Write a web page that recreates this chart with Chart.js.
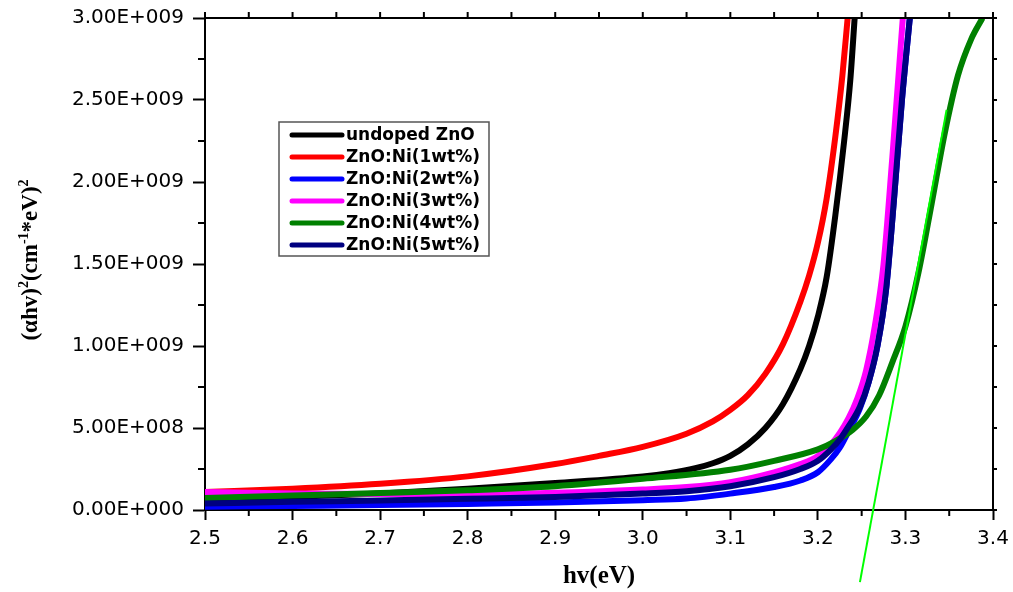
<!DOCTYPE html>
<html>
<head>
<meta charset="utf-8">
<script src="https://cdn.jsdelivr.net/npm/chart.js@4.4.1/dist/chart.umd.min.js"></script>
<style>
  html, body { margin: 0; padding: 0; background: #fff; }
  canvas { display: block; }
</style>
</head>
<body>
<canvas id="chart" width="1013" height="592"></canvas>
<script>
// Tauc plot data, values of (alpha*hv)^2 in units of 1E+009
const seriesNames = ["undoped ZnO", "ZnO:Ni(1wt%)", "ZnO:Ni(2wt%)", "ZnO:Ni(3wt%)", "ZnO:Ni(4wt%)", "ZnO:Ni(5wt%)"];
const seriesColors = ["#000000", "#ff0000", "#0000ff", "#ff00ff", "#008000", "#000080"];

const hvUndoped = [2.5, 2.6, 2.7, 2.8, 2.9, 3.0, 3.03, 3.06, 3.08, 3.1, 3.12, 3.14, 3.16, 3.18, 3.19, 3.2, 3.21, 3.22, 3.23, 3.237, 3.242];
const undoped   = [0.06, 0.08, 0.10, 0.13, 0.165, 0.205, 0.225, 0.255, 0.285, 0.33, 0.40, 0.50, 0.645, 0.86, 1.0, 1.18, 1.42, 1.8, 2.25, 2.62, 3.0];

const hvNi1 = [2.5, 2.6, 2.7, 2.8, 2.9, 2.95, 3.0, 3.05, 3.08, 3.1, 3.12, 3.14, 3.16, 3.18, 3.19, 3.2, 3.21, 3.22, 3.228, 3.234];
const ni1   = [0.11, 0.13, 0.16, 0.205, 0.28, 0.33, 0.385, 0.465, 0.54, 0.61, 0.70, 0.83, 1.01, 1.27, 1.43, 1.63, 1.9, 2.28, 2.65, 3.0];

const hvNi2 = [2.5, 2.6, 2.7, 2.8, 2.9, 3.0, 3.05, 3.1, 3.15, 3.18, 3.2, 3.215, 3.225, 3.235, 3.248, 3.258, 3.268, 3.278, 3.287, 3.296, 3.305];
const ni2   = [0.02, 0.025, 0.03, 0.037, 0.045, 0.06, 0.07, 0.10, 0.14, 0.18, 0.23, 0.31, 0.38, 0.48, 0.62, 0.78, 1.0, 1.35, 1.9, 2.5, 3.0];

const hvNi3 = [2.5, 2.6, 2.7, 2.8, 2.9, 3.0, 3.05, 3.1, 3.15, 3.18, 3.2, 3.215, 3.225, 3.235, 3.245, 3.255, 3.265, 3.275, 3.285, 3.297];
const ni3   = [0.11, 0.10, 0.097, 0.098, 0.105, 0.125, 0.14, 0.17, 0.23, 0.28, 0.33, 0.40, 0.47, 0.56, 0.68, 0.85, 1.12, 1.5, 2.15, 3.0];

const hvNi4 = [2.5, 2.6, 2.7, 2.8, 2.9, 3.0, 3.1, 3.15, 3.2, 3.22, 3.24, 3.255, 3.27, 3.285, 3.3, 3.315, 3.33, 3.345, 3.36, 3.375, 3.388];
const ni4   = [0.073, 0.088, 0.103, 0.12, 0.145, 0.19, 0.245, 0.30, 0.37, 0.42, 0.49, 0.57, 0.70, 0.90, 1.12, 1.45, 1.87, 2.3, 2.65, 2.87, 3.0];

const hvNi5 = [2.5, 2.6, 2.7, 2.8, 2.9, 3.0, 3.05, 3.1, 3.15, 3.18, 3.2, 3.215, 3.225, 3.235, 3.248, 3.258, 3.268, 3.278, 3.287, 3.296, 3.305];
const ni5   = [0.04, 0.05, 0.058, 0.068, 0.08, 0.10, 0.115, 0.145, 0.20, 0.25, 0.30, 0.37, 0.43, 0.51, 0.63, 0.78, 1.0, 1.35, 1.9, 2.5, 3.0];

// linear fit to the 4wt% edge
const hvFit = [3.248, 3.347];
const fitLine = [-0.44, 2.44];

const xMin = 2.5, xMax = 3.4, xStep = 0.05, xMajor = 0.1;
const yMin = 0, yMax = 3, yStep = 0.25, yMajor = 0.5;

const isMajor = (v, step) => Math.abs(v / step - Math.round(v / step)) < 1e-6;

function sci(v) {
  if (Math.abs(v) < 1e-12) return "0.00E+000";
  const e = Math.floor(Math.log10(v) + 1e-9);
  const m = v / Math.pow(10, e);
  return m.toFixed(2) + "E+" + String(e).padStart(3, "0");
}

const series = [[hvUndoped, undoped], [hvNi1, ni1], [hvNi2, ni2], [hvNi3, ni3], [hvNi4, ni4], [hvNi5, ni5]];
const datasets = series.map(([hv, vals], i) => ({
  label: seriesNames[i],
  data: hv.map((h, j) => ({ x: h, y: vals[j] })),
  borderColor: seriesColors[i],
  borderWidth: 6,
  pointRadius: 0,
  fill: false,
  cubicInterpolationMode: "monotone",
  order: -i
}));
datasets.push({
  label: "fit",
  data: hvFit.map((h, j) => ({ x: h, y: fitLine[j] })),
  borderColor: "#00ff00",
  borderWidth: 2,
  pointRadius: 0,
  fill: false,
  clip: false,
  order: -10
});

const extras = {
  id: "extras",
  afterDraw(chart) {
    const { ctx, chartArea: a, scales: { x, y } } = chart;
    ctx.save();
    ctx.strokeStyle = "#000";
    ctx.lineWidth = 2;
    const seg = (x1, y1, x2, y2) => { ctx.beginPath(); ctx.moveTo(x1, y1); ctx.lineTo(x2, y2); ctx.stroke(); };

    // top and right frame
    ctx.beginPath();
    ctx.moveTo(a.left - 1, a.top);
    ctx.lineTo(a.right, a.top);
    ctx.lineTo(a.right, a.bottom + 1);
    ctx.stroke();

    x.ticks.forEach(t => {
      const px = x.getPixelForValue(t.value);
      if (!isMajor(t.value, xMajor)) seg(px, a.bottom, px, a.bottom + 6);
      seg(px, a.top, px, a.top - 6);
    });
    y.ticks.forEach(t => {
      const py = y.getPixelForValue(t.value);
      if (!isMajor(t.value, yMajor)) seg(a.left - 7, py, a.left, py);
      seg(a.right, py, a.right + 4, py);
    });

    // legend
    const lx = 279, ly = 122, lw = 210, lh = 134, rowH = 22;
    ctx.lineWidth = 1.5;
    ctx.strokeStyle = "#555";
    ctx.strokeRect(lx, ly, lw, lh);
    ctx.font = "bold 17px 'DejaVu Sans'";
    ctx.textBaseline = "middle";
    ctx.textAlign = "left";
    seriesNames.forEach((name, i) => {
      const ry = ly + 13 + i * rowH;
      ctx.strokeStyle = seriesColors[i];
      ctx.lineWidth = 5;
      ctx.lineCap = "round";
      seg(292, ry, 342, ry);
      ctx.fillStyle = "#000";
      ctx.fillText(name, 346, ry + 1);
    });

    // y axis title with superscripts
    const parts = [["(\u03b1hv)", false], ["2", true], ["(cm", false], ["-1", true], ["*eV)", false], ["2", true]];
    const big = "bold 23px 'Liberation Serif'", small = "bold 14px 'Liberation Serif'";
    let total = 0;
    parts.forEach(([s, sup]) => { ctx.font = sup ? small : big; total += ctx.measureText(s).width; });
    ctx.translate(37, 260);
    ctx.rotate(-Math.PI / 2);
    ctx.textBaseline = "alphabetic";
    ctx.fillStyle = "#000";
    let cx = -total / 2;
    parts.forEach(([s, sup]) => {
      ctx.font = sup ? small : big;
      ctx.fillText(s, cx, sup ? -9 : 0);
      cx += ctx.measureText(s).width;
    });
    ctx.restore();
  }
};

const chart = new Chart(document.getElementById("chart").getContext("2d"), {
  type: "line",
  data: { datasets: datasets },
  options: {
    responsive: false,
    animation: false,
    devicePixelRatio: 1,
    layout: { padding: { top: 18, right: 20, left: 0, bottom: 0 } },
    plugins: { legend: { display: false }, tooltip: { enabled: false } },
    scales: {
      x: {
        type: "linear",
        min: xMin, max: xMax,
        afterFit: s => { s.height = 82; s.paddingLeft = 0; s.paddingRight = 0; },
        border: { display: true, color: "#000", width: 2 },
        grid: {
          drawOnChartArea: false, tickLength: 10, tickWidth: 2,
          tickColor: c => (c.tick && isMajor(c.tick.value, xMajor)) ? "#000" : "rgba(0,0,0,0)"
        },
        ticks: {
          stepSize: xStep, autoSkip: false, maxRotation: 0, padding: 7, color: "#000",
          font: { family: "DejaVu Sans", size: 20 },
          callback: v => isMajor(v, xMajor) ? v.toFixed(1) : ""
        },
        title: {
          display: true, text: "hv(eV)", color: "#000",
          font: { family: "Liberation Serif", size: 25, weight: "bold" },
          padding: { top: 0, bottom: 0 }
        }
      },
      y: {
        min: yMin, max: yMax,
        afterFit: s => { s.width = 205; s.paddingTop = 0; s.paddingBottom = 0; },
        border: { display: true, color: "#000", width: 2 },
        grid: {
          drawOnChartArea: false, tickLength: 12, tickWidth: 2,
          tickColor: c => (c.tick && isMajor(c.tick.value, yMajor)) ? "#000" : "rgba(0,0,0,0)"
        },
        ticks: {
          stepSize: yStep, autoSkip: false, padding: 9, color: "#000",
          font: { family: "DejaVu Sans", size: 20 },
          callback: v => isMajor(v, yMajor) ? sci(v * 1e9) : ""
        }
      }
    }
  },
  plugins: [extras]
});
</script>
</body>
</html>
